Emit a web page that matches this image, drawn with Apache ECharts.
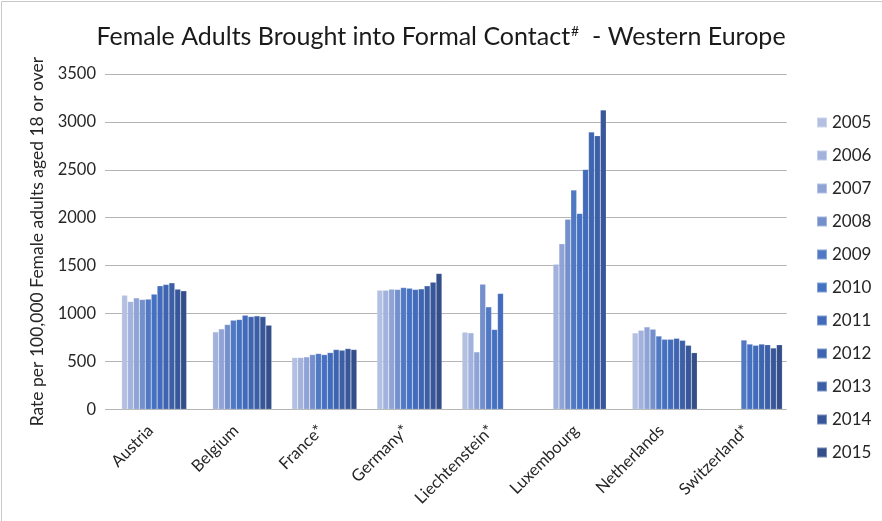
<!DOCTYPE html>
<html>
<head>
<meta charset="utf-8">
<script src="https://cdn.jsdelivr.net/npm/echarts@6/dist/echarts.min.js"></script>
<style>html,body{margin:0;padding:0;background:#fff;}#chart{width:882px;height:521px;}</style>
</head>
<body>
<div id="chart"></div>
<script>
// Categories and series names
const countries = ['Austria', 'Belgium', 'France*', 'Germany*', 'Liechtenstein*', 'Luxembourg', 'Netherlands', 'Switzerland*'];
const years = ['2005', '2006', '2007', '2008', '2009', '2010', '2011', '2012', '2013', '2014', '2015'];
const yTicks = [0, 500, 1000, 1500, 2000, 2500, 3000, 3500];

// Values per country, 2005..2015 (null = no data)
const austria       = [1191, 1125, 1163, 1146, 1150, 1202, 1289, 1303, 1320, 1254, 1237];
const belgium       = [null, 808, 839, 885, 930, 937, 982, 968, 975, 968, 878];
const france        = [540, 540, 547, 571, 582, 571, 592, 624, 617, 634, 624];
const germany       = [1243, 1243, 1254, 1251, 1271, 1264, 1251, 1257, 1289, 1327, 1418];
const liechtenstein = [805, 798, 599, 1306, 1069, 833, 1209, null, null, null, null];
const luxembourg    = [null, 1515, 1727, 1985, 2288, 2045, 2504, 2894, 2856, 3124, null];
const netherlands   = [797, 825, 860, 836, 765, 731, 731, 741, 720, 668, 591];
const switzerland   = [null, null, null, null, 723, 681, 668, 681, 674, 640, 674];

const yearColors = ['#b4c0e2', '#a2b2dd', '#8fa3d6', '#7490cc', '#5078c3', '#4571c2', '#426bbb', '#3f65b1', '#3c5fa6', '#38579a', '#334e88'];

const byCountry = [austria, belgium, france, germany, liechtenstein, luxembourg, netherlands, switzerland];
const FONT = 'Lato';

const series = years.map((y, i) => ({
  name: y,
  type: 'bar',
  xAxisIndex: 0,
  yAxisIndex: 0,
  barGap: '0%',
  barCategoryGap: '23.6%',
  itemStyle: { color: yearColors[i], borderColor: 'rgba(255,255,255,0.35)', borderWidth: 0.5 },
  emphasis: { disabled: true },
  data: byCountry.map(c => c[i])
}));

const chart = echarts.init(document.getElementById('chart'), null, { renderer: 'canvas' });
chart.setOption({
  animation: false,
  backgroundColor: '#fff',
  textStyle: { fontFamily: FONT },
  title: {
    text: 'Female Adults Brought into Formal Contact{sup|#}  - Western Europe',
    left: 'center',
    top: 19,
    textStyle: {
      fontFamily: FONT, fontSize: 25, fontWeight: 'normal', color: '#1a1a1a',
      rich: { sup: { fontFamily: FONT, fontSize: 14, color: '#1a1a1a', verticalAlign: 'top', padding: [0, 0, 11, 1] } }
    }
  },
  legend: {
    orient: 'vertical',
    left: 811,
    top: 109,
    itemWidth: 10,
    itemHeight: 10,
    itemGap: 16,
    icon: 'rect',
    data: years,
    textStyle: { fontFamily: FONT, fontSize: 17, color: '#262626', lineHeight: 17 }
  },
  graphic: [
    { type: 'line', shape: { x1: 1.5, y1: 1.5, x2: 882, y2: 1.5 }, style: { stroke: '#c8c8c8', lineWidth: 1 } },
    { type: 'line', shape: { x1: 1.5, y1: 1.5, x2: 1.5, y2: 521 }, style: { stroke: '#c8c8c8', lineWidth: 1 } }
  ],
  grid: [
    { left: 111.6, right: 89.6, top: 74, bottom: 111.7 },
    { left: 105, right: 95.3, top: 74, bottom: 111.7 }
  ],
  xAxis: [
    {
      gridIndex: 0, type: 'category', data: countries,
      axisLine: { show: false }, axisTick: { show: false },
      axisLabel: { rotate: 45, fontSize: 16.5, color: '#262626', margin: 15, padding: [0, 5, 0, 0], interval: 0, fontFamily: FONT }
    },
    { gridIndex: 1, type: 'value', min: 0, max: 1, show: false }
  ],
  yAxis: [
    { gridIndex: 0, type: 'value', min: 0, max: 3500, interval: 500, show: false },
    {
      gridIndex: 1, type: 'value', min: yTicks[0], max: yTicks[yTicks.length - 1], interval: 500,
      axisLine: { show: false }, axisTick: { show: false },
      splitLine: { show: true, lineStyle: { color: '#b4b4b4', width: 1 } },
      axisLabel: { fontSize: 16.5, color: '#262626', margin: 9, fontFamily: FONT, formatter: v => String(v) },
      name: 'Rate per 100,000 Female adults aged 18 or over',
      nameLocation: 'middle',
      nameGap: 59,
      nameTextStyle: { fontSize: 17.5, color: '#262626', fontFamily: FONT }
    }
  ],
  series: series
});
</script>
</body>
</html>
